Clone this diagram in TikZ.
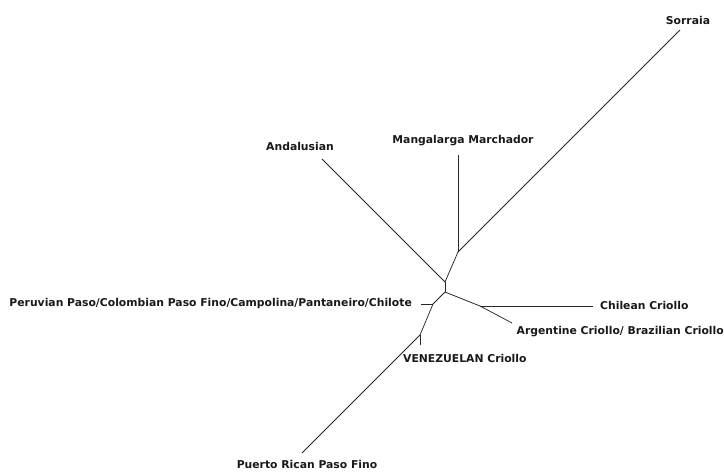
\documentclass[tikz,border=0pt]{standalone}
\usepackage{fontspec}
\setmainfont{DejaVu Sans}
\begin{document}
\begin{tikzpicture}[x=1pt,y=-1pt,
  lbl/.style={font=\bfseries\fontsize{10.8}{12}\selectfont, inner sep=0pt, text=black!90},
  br/.style={draw=black!85, line width=0.75pt}]
\useasboundingbox (0,0) rectangle (724,472);
% internal nodes
\coordinate (n1) at (445,282);
\coordinate (n2) at (445,292);
\coordinate (n3) at (458,252);
\coordinate (n4) at (480,306);
\coordinate (n5) at (433,304);
\coordinate (n6) at (420,335);
% leaf ends
\coordinate (eA) at (322,159);
\coordinate (eM) at (458,155);
\coordinate (eS) at (680,30);
\coordinate (eC) at (593,306);
\coordinate (eG) at (512,323);
\coordinate (eP) at (421,304);
\coordinate (eV) at (420,345);
\coordinate (eR) at (302,453);
% labels
\node[lbl] (lA) at (300,146) {Andalusian};
\node[lbl] (lM) at (463,141) {Mangalarga Marchador};
\node[lbl] (lS) at (688,20) {Sorraia};
\node[lbl, anchor=west] (lC) at (600,305) {Chilean Criollo};
\node[lbl, anchor=east] (lG) at (724,332) {Argentine Criollo/ Brazilian Criollo};
\node[lbl, anchor=east] (lP) at (412,304) {Peruvian Paso/Colombian Paso Fino/Campolina/Pantaneiro/Chilote};
\node[lbl, anchor=west] (lV) at (403,358) {VENEZUELAN Criollo};
\node[lbl] (lR) at (307,464) {Puerto Rican Paso Fino};
% branches
\draw[br] (eA) -- (n1);
\draw[br] (n1) -- (n2);
\draw[br] (n1) -- (n3);
\draw[br] (n3) -- (eM);
\draw[br] (n3) -- (eS);
\draw[br] (n2) -- (n4);
\draw[br] (n4) -- (eC);
\draw[br] (n4) -- (eG);
\draw[br] (n2) -- (n5);
\draw[br] (n5) -- (eP);
\draw[br] (n5) -- (n6);
\draw[br] (n6) -- (eV);
\draw[br] (n6) -- (eR);
\end{tikzpicture}
\end{document}
